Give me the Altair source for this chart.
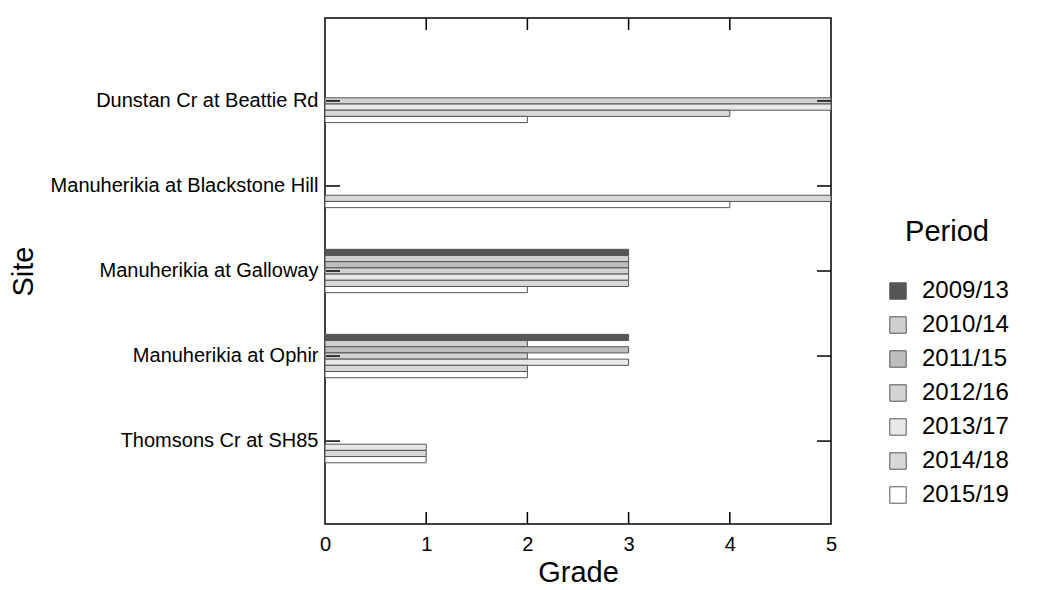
import altair as alt
import pandas as pd

sites = [
    "Dunstan Cr at Beattie Rd",
    "Manuherikia at Blackstone Hill",
    "Manuherikia at Galloway",
    "Manuherikia at Ophir",
    "Thomsons Cr at SH85",
]
periods = ["2009/13", "2010/14", "2011/15", "2012/16", "2013/17", "2014/18", "2015/19"]

# Grade per period (None = no bar)
dunstan = [None, None, None, 5, 5, 4, 2]
blackstone = [None, None, None, None, None, 5, 4]
galloway = [3, 3, 3, 3, 3, 3, 2]
ophir = [3, 2, 3, 2, 3, 2, 2]
thomsons = [None, None, None, None, 1, 1, 1]

x_ticks = [1, 2, 3, 4]
x_labels = [0, 1, 2, 3, 4, 5]

period_fills = ["#555555", "#cfcfcf", "#bdbdbd", "#d2d2d2", "#e8e8e8", "#d8d8d8", "#ffffff"]

rows = []
for site, vals in zip(sites, [dunstan, blackstone, galloway, ophir, thomsons]):
    for p, v in zip(periods, vals):
        if v is not None:
            rows.append({"Site": site, "Period": p, "Grade": v})
df = pd.DataFrame(rows)

FONT = "Liberation Sans"

xscale = alt.Scale(domain=[0, 5], nice=False, zero=True)
yscale = alt.Scale(domain=sites, paddingInner=0.49, paddingOuter=0.72)

bars = alt.Chart(df).mark_bar(stroke="#555555", strokeWidth=1).encode(
    x=alt.X(
        "Grade:Q",
        scale=xscale,
        axis=alt.Axis(
            values=x_labels, format="d", tickSize=0, domain=False, grid=False,
            labelFlush=False,
            labelFontSize=20, labelPadding=10, labelColor="black",
            title="Grade", titleFontSize=29, titleFontWeight="normal",
            titleColor="black", titleY=34,
        ),
    ),
    y=alt.Y(
        "Site:N",
        scale=yscale,
        sort=sites,
        axis=alt.Axis(
            tickSize=0, domain=False, grid=False,
            labelFontSize=20, labelPadding=7, labelColor="black", labelLimit=400,
            title="Site", titleFontSize=29, titleFontWeight="normal",
            titleColor="black", titleX=-287,
        ),
    ),
    yOffset=alt.YOffset("Period:N", sort=periods, scale=alt.Scale(domain=periods, paddingInner=0)),
    fill=alt.Fill(
        "Period:N",
        scale=alt.Scale(domain=periods, range=period_fills),
        legend=alt.Legend(
            title="Period", orient="none", legendX=561, legendY=200,
            titleFontSize=29, titleFontWeight="normal", titleColor="black",
            titleAnchor="middle", titlePadding=32,
            labelFontSize=24, labelColor="black", labelOffset=12,
            symbolType="square", symbolSize=270, symbolStrokeColor="#555555",
            symbolStrokeWidth=1, rowPadding=10,
        ),
    ),
)

xt = pd.DataFrame({"t": x_ticks})
bottom_ticks = alt.Chart(xt).mark_rule(color="black", strokeWidth=1.5).encode(
    x=alt.X("t:Q", scale=xscale), y=alt.value(506), y2=alt.value(494)
)
top_ticks = alt.Chart(xt).mark_rule(color="black", strokeWidth=1.5).encode(
    x=alt.X("t:Q", scale=xscale), y=alt.value(0), y2=alt.value(12)
)
st = pd.DataFrame({"Site": sites})
left_ticks = alt.Chart(st).mark_rule(color="black", strokeWidth=1.5).encode(
    y=alt.Y("Site:N", scale=yscale, sort=sites), x=alt.value(1), x2=alt.value(15)
)
right_ticks = alt.Chart(st).mark_rule(color="black", strokeWidth=1.5).encode(
    y=alt.Y("Site:N", scale=yscale, sort=sites), x=alt.value(492), x2=alt.value(506)
)

chart = (
    alt.layer(bars, bottom_ticks, top_ticks, left_ticks, right_ticks)
    .properties(
        width=506, height=506,
        autosize=alt.AutoSizeParams(type="none"),
        padding={"left": 317, "top": 10, "right": 200, "bottom": 66},
    )
    .configure(font=FONT)
    .configure_view(stroke="black", strokeWidth=1.5)
)

chart.save("out.html", embed_options={"renderer": "svg", "actions": False})
